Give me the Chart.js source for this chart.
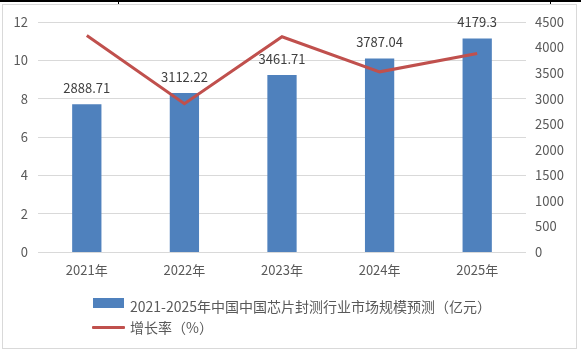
<!DOCTYPE html>
<html>
<head>
<meta charset="utf-8">
<script src="https://cdn.jsdelivr.net/npm/chart.js@4"></script>
<style>
  html, body { margin: 0; padding: 0; background: #fff; }
  #wrap { position: relative; width: 581px; height: 355px; overflow: hidden; }
  canvas { position: absolute; left: 0; top: 0; }
  .topline { position: absolute; left: 0; top: 0; width: 581px; height: 2px; background: #000; }
  .vtick { position: absolute; top: 0; width: 1px; height: 5px; background: #000; }
  .frame { position: absolute; left: 2px; top: 4px; width: 573px; height: 343px; border: 1px solid #d9d9d9; pointer-events: none; }
  .leg { position: absolute; font-family: "Noto Sans CJK SC", "Noto Sans", sans-serif; font-size: 14px; color: #595959; white-space: nowrap; line-height: 16px; }
  .sw { position: absolute; }
</style>
</head>
<body>
<div id="wrap">
  <canvas id="c" width="581" height="355"></canvas>
  <div class="topline"></div>
  <div class="vtick" style="left:118px"></div>
  <div class="vtick" style="left:550px"></div>
  <div class="frame"></div>
  <div class="sw" style="left:93px;top:298px;width:31px;height:10px;background:#4f81bd"></div>
  <div class="leg" id="leg1" style="left:130px;top:298px"></div>
  <div class="sw" style="left:92px;top:326px;width:33px;height:3px;background:#c0504d;border-radius:1px"></div>
  <div class="leg" id="leg2" style="left:130px;top:319px"></div>
</div>
<script>
const categories = ['2021年', '2022年', '2023年', '2024年', '2025年'];
const marketSize = [2888.71, 3112.22, 3461.71, 3787.04, 4179.3];
const marketLabels = ['2888.71', '3112.22', '3461.71', '3787.04', '4179.3'];
const growthRate = [11.3, 7.74, 11.23, 9.40, 10.36];
const seriesNames = ['2021-2025年中国中国芯片封测行业市场规模预测（亿元）', '增长率（%）'];

document.getElementById('leg1').textContent = seriesNames[0];
document.getElementById('leg2').textContent = seriesNames[1];

const FONT = '"Noto Sans CJK SC", "Noto Sans", sans-serif';

const barLabels = {
  id: 'barLabels',
  afterDatasetsDraw(chart) {
    const meta = chart.getDatasetMeta(1);
    const ctx = chart.ctx;
    ctx.save();
    ctx.font = '13px ' + FONT;
    ctx.fillStyle = '#404040';
    ctx.textAlign = 'center';
    ctx.textBaseline = 'middle';
    meta.data.forEach((el, i) => {
      ctx.fillText(marketLabels[i], el.x, el.y - 16);
    });
    ctx.restore();
  }
};

new Chart(document.getElementById('c'), {
  data: {
    labels: categories,
    datasets: [
      {
        type: 'line',
        label: seriesNames[1],
        data: growthRate,
        yAxisID: 'y',
        borderColor: '#c0504d',
        backgroundColor: '#c0504d',
        borderWidth: 3,
        pointRadius: 0,
        tension: 0,
        order: 0
      },
      {
        type: 'bar',
        label: seriesNames[0],
        data: marketSize,
        yAxisID: 'y1',
        backgroundColor: '#4f81bd',
        borderWidth: 0,
        barPercentage: 0.3,
        categoryPercentage: 1.0,
        order: 1
      }
    ]
  },
  options: {
    responsive: false,
    animation: false,
    devicePixelRatio: 1,
    layout: { padding: { top: 22, bottom: 73, left: 0, right: 0 } },
    plugins: {
      legend: { display: false },
      tooltip: { enabled: false }
    },
    scales: {
      x: {
        grid: { display: false, drawTicks: false },
        border: { display: false },
        ticks: { color: '#595959', font: { family: FONT, size: 13 }, padding: 10, maxRotation: 0 },
        afterFit: s => { s.height = 30; }
      },
      y: {
        position: 'left',
        min: 0, max: 12,
        ticks: { stepSize: 2, color: '#595959', font: { family: FONT, size: 13 }, padding: 10, callback: v => String(v) },
        grid: { color: '#d9d9d9', lineWidth: 1, drawTicks: false },
        border: { display: false },
        afterFit: s => { s.width = 38; }
      },
      y1: {
        position: 'right',
        min: 0, max: 4500,
        ticks: { stepSize: 500, color: '#595959', font: { family: FONT, size: 13 }, padding: 9, callback: v => String(v) },
        grid: { display: false, drawTicks: false },
        border: { display: false },
        afterFit: s => { s.width = 55; }
      }
    }
  },
  plugins: [barLabels]
});
</script>
</body>
</html>
